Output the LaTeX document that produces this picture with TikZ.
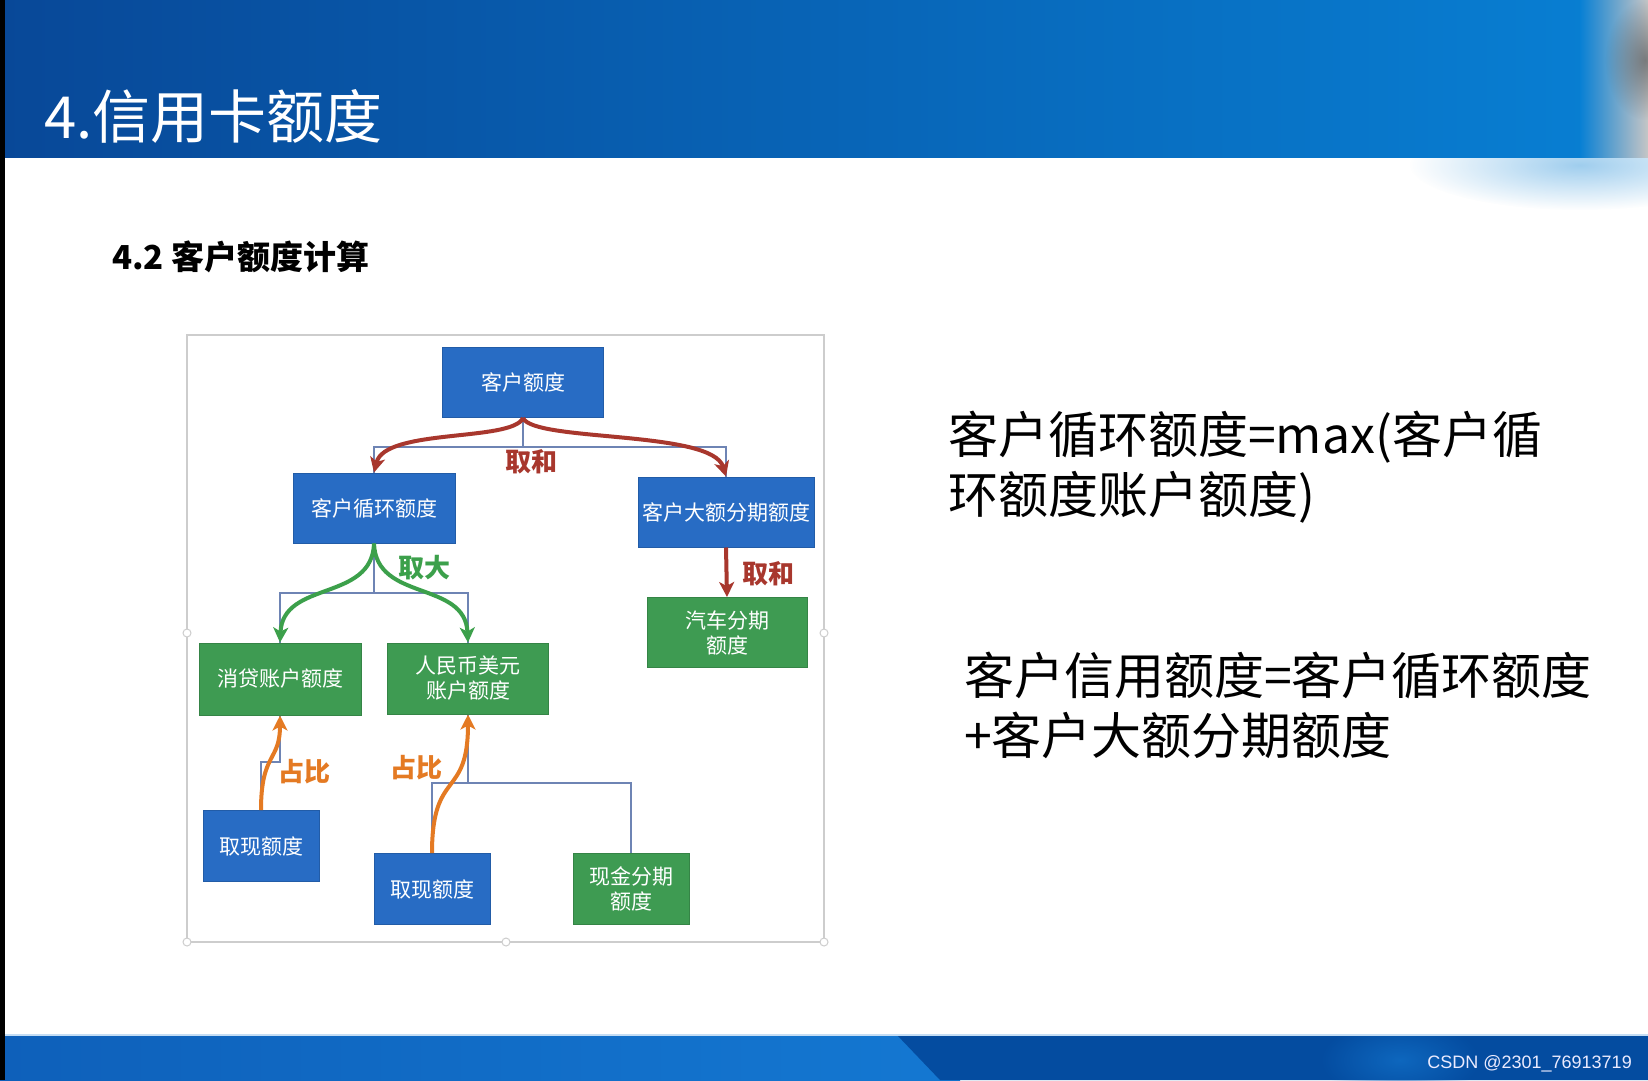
\documentclass[tikz,border=0pt]{standalone}
\usepackage{fontspec}
\setmainfont{Noto Sans CJK SC}
\newfontfamily\wmfont{Liberation Sans}
\usetikzlibrary{arrows.meta,fadings}
\definecolor{hdrL}{RGB}{8,72,152}
\definecolor{hdrR}{RGB}{8,128,212}
\definecolor{nblue}{RGB}{40,108,196}
\definecolor{ngreen}{RGB}{62,155,82}
\definecolor{orgline}{RGB}{110,132,180}
\definecolor{cred}{RGB}{168,55,45}
\definecolor{cgreen}{RGB}{60,160,75}
\definecolor{corange}{RGB}{228,122,35}
\definecolor{botL}{RGB}{14,96,186}
\definecolor{botM}{RGB}{20,120,210}
\definecolor{botD}{RGB}{4,76,160}
\definecolor{framegray}{RGB}{205,205,205}
\tikzfading[name=fuzzy, inner color=transparent!0, outer color=transparent!100]
\tikzset{
  box/.style={rectangle, inner sep=0pt, text=white, align=center, font=\fontsize{21}{25}\selectfont},
  bluebox/.style={box, fill=nblue, draw=nblue!85!black, line width=1pt},
  greenbox/.style={box, fill=ngreen, draw=ngreen!85!black, line width=1pt},
  org/.style={draw=orgline, line width=2.5pt},
  carrow/.style={line width=4pt, -{Stealth[length=15pt,width=15pt,inset=4pt]}},
  lbl/.style={font=\bfseries\fontsize{26}{30}\selectfont, inner sep=0pt},
  bigtext/.style={font=\fontsize{50}{60}\selectfont, inner sep=0pt, anchor=base west},
  handle/.style={circle, draw=framegray, fill=white, line width=1pt, minimum size=8pt, inner sep=0pt}
}
\begin{document}
\begin{tikzpicture}[x=1pt,y=-1pt]
\useasboundingbox (0,0) rectangle (1648,1080);
\fill[white] (0,0) rectangle (1648,1080);
% header
\fill[hdrR!55!white, path fading=fuzzy, opacity=0.7] (1580,165) ellipse (170 and 45);
\shade[left color=hdrL, right color=hdrR] (0,0) rectangle (1648,157);
\shade[left color=hdrR, right color=gray!45!white] (1580,0) rectangle (1648,157);
\fill[gray!60!black, path fading=fuzzy, opacity=0.6] (1645,60) ellipse (40 and 60);
\node[inner sep=0pt, anchor=base west, text=white, font=\fontsize{58}{60}\selectfont] (title) at (44,138) {4.信用卡额度};
% footer
\begin{scope}
\clip (0,1035) rectangle (1648,1080);
\shade[left color=botL, right color=botM] (0,1035) rectangle (960,1080);
\fill[botD] (897,1035) -- (1648,1035) -- (1648,1080) -- (940,1080) -- cycle;
\fill[botM!60!botD, path fading=fuzzy] (1400,1060) ellipse (80 and 40);
\end{scope}
\draw[white!75!botM, line width=1.5pt] (0,1035) -- (1648,1035);
\node[inner sep=0pt, anchor=base east, text=white!92!blue, font=\wmfont\fontsize{18}{20}\selectfont] (wm) at (1632,1068) {CSDN @2301\_76913719};
% left dark strip
\fill[black] (0,0) rectangle (5,1080);
% subtitle
\node[inner sep=0pt, anchor=base west, font=\bfseries\fontsize{33}{36}\selectfont] (sub) at (112,269) {4.2 客户额度计算};
% frame
\draw[framegray, line width=2pt] (187,335) rectangle (824,942);
\foreach \p/\q in {187/633, 824/633, 187/942, 506/942, 824/942}
  \node[handle] at (\p,\q) {};
% boxes
\node[bluebox, minimum width=161pt, minimum height=70pt] (root) at (523,382.5) {客户额度};
\node[bluebox, minimum width=162pt, minimum height=70pt] (cyc) at (374,508) {客户循环额度};
\node[bluebox, minimum width=176pt, minimum height=70pt] (big) at (726,512) {客户大额分期额度};
\node[greenbox, minimum width=160pt, minimum height=70pt] (car) at (727,632.5) {汽车分期\\额度};
\node[greenbox, minimum width=162pt, minimum height=72pt] (cons) at (280,679) {消贷账户额度};
\node[greenbox, minimum width=161pt, minimum height=71pt] (rmb) at (468,678.5) {人民币美元\\账户额度};
\node[bluebox, minimum width=116pt, minimum height=71pt] (cash1) at (261,846) {取现额度};
\node[bluebox, minimum width=116pt, minimum height=71pt] (cash2) at (432,889) {取现额度};
\node[greenbox, minimum width=116pt, minimum height=71pt] (inst) at (631,889) {现金分期\\额度};
% org chart lines
\coordinate (j1) at (523,447);
\coordinate (j2) at (374,593);
\coordinate (j3) at (468,783);
\coordinate (j4) at (261,762);
\draw[org] (root.south) -- (j1) -| (cyc.north);
\draw[org] (j1) -| (big.north);
\draw[org] (cyc.south) -- (j2) -| (cons.north);
\draw[org] (j2) -| (rmb.north);
\draw[org] (rmb.south) -- (j3) -| (cash2.north);
\draw[org] (j3) -| (inst.north);
\draw[org] (cash1.north) -- (j4) -| (cons.south);
% coloured arrows
\draw[carrow, cred] (root.south) .. controls (512,442) and (385,428) .. (cyc.north);
\draw[carrow, cred] (root.south) .. controls (534,442) and (712,430) .. (big.north);
\draw[carrow, cred] (big.south) -- (car.north);
\draw[carrow, cgreen] (cyc.south) .. controls (372,602) and (283,580) .. (cons.north);
\draw[carrow, cgreen] (cyc.south) .. controls (376,602) and (465,580) .. (rmb.north);
\draw[carrow, corange] (cash1.north) .. controls (261,752) and (280,762) .. (cons.south);
\draw[carrow, corange] (cash2.north) .. controls (432,768) and (468,800) .. (rmb.south);
% labels
\node[lbl, text=cred] (l1) at (531,462) {取和};
\node[lbl, text=cred] (l2) at (768,574) {取和};
\node[lbl, text=cgreen] (l3) at (424,568) {取大};
\node[lbl, text=corange] (l4) at (304,772) {占比};
\node[lbl, text=corange] (l5) at (416,768) {占比};
% right text
\node[bigtext] (t1) at (948,453) {客户循环额度=max(客户循};
\node[bigtext] (t2) at (948,513) {环额度账户额度)};
\node[bigtext] (t3) at (964,694) {客户信用额度=客户循环额度};
\node[bigtext] (t4) at (964,754) {+客户大额分期额度};
\end{tikzpicture}
\end{document}
